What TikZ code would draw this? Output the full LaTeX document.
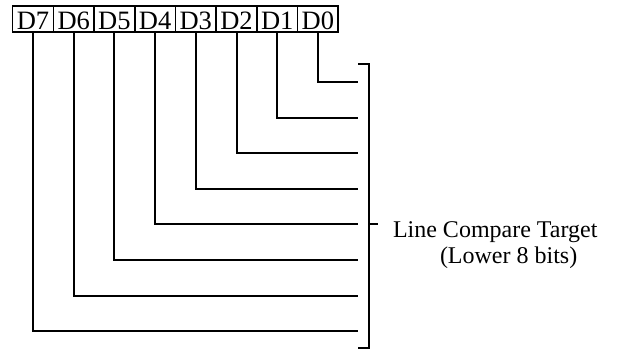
\documentclass[tikz,border=0pt]{standalone}
\usepackage{fontspec}
\setmainfont{Liberation Serif}
\usetikzlibrary{positioning}

\begin{document}
\begin{tikzpicture}[
    x=1pt, y=-1pt,
    node distance=0pt,
    line width=2pt,
    font=\fontsize{24}{27}\selectfont
  ]

  % Global Style Definitions
  \tikzset{
    bitbox/.style={draw, line width=1.6pt, outer sep=0pt, inner sep=0pt, minimum width=40.7pt, minimum height=26pt, text height=20pt, text depth=0pt, font=\fontsize{26.5}{27}\selectfont},
    label/.style={inner sep=0pt, anchor=base west}
  }

  \useasboundingbox (0,0) rectangle (622,351);

  % Register bits
  \node (d7) [bitbox] at (33,19) {D7};
  \node (d6) [bitbox, right=of d7] {D6};
  \node (d5) [bitbox, right=of d6] {D5};
  \node (d4) [bitbox, right=of d5] {D4};
  \node (d3) [bitbox, right=of d4] {D3};
  \node (d2) [bitbox, right=of d3] {D2};
  \node (d1) [bitbox, right=of d2] {D1};
  \node (d0) [bitbox, right=of d1] {D0};

  % Wire ends at the bracket
  \coordinate (e0) at (358,82);
  \coordinate (e1) at (358,117.6);
  \coordinate (e2) at (358,153.2);
  \coordinate (e3) at (358,188.8);
  \coordinate (e4) at (358,224.4);
  \coordinate (e5) at (358,260);
  \coordinate (e6) at (358,295.6);
  \coordinate (e7) at (358,331.2);

  % Bit wires
  \draw (d0.south) |- (e0);
  \draw (d1.south) |- (e1);
  \draw (d2.south) |- (e2);
  \draw (d3.south) |- (e3);
  \draw (d4.south) |- (e4);
  \draw (d5.south) |- (e5);
  \draw (d6.south) |- (e6);
  \draw (d7.south) |- (e7);

  % Bracket
  \coordinate (brtop) at (358,64);
  \coordinate (brbot) at (358,348);
  \coordinate (tick)  at (369,224);
  \draw (brtop) -- ++(11,0) |- (brbot);
  \draw (tick) -- ++(9,0);

  % Label
  \node (tgt)  [label] at (392,237) {Line Compare Target};
  \node (bits) [label] at (439,263) {(Lower 8 bits)};

\end{tikzpicture}
\end{document}
